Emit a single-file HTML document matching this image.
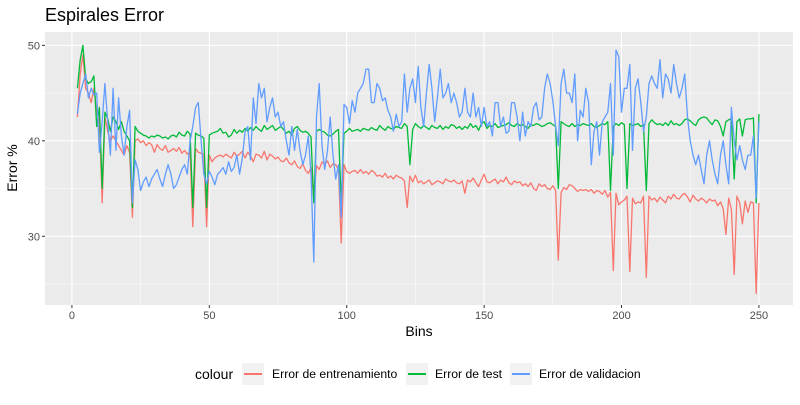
<!DOCTYPE html>
<html><head><meta charset="utf-8"><style>
body{margin:0;background:#fff;font-family:"Liberation Sans",sans-serif}
svg text{font-family:"Liberation Sans",sans-serif}
</style></head><body>
<svg id="chart" width="800" height="400" xmlns="http://www.w3.org/2000/svg">
<rect width="800" height="400" fill="#fff"/>
<text x="45" y="21" font-size="18" fill="#000">Espirales Error</text>
<rect x="45" y="32" width="748" height="273" fill="#EBEBEB"/>
<g id="grid"></g><g id="series"></g><g id="axes"></g>
<text x="419" y="336" font-size="14" text-anchor="middle">Bins</text>
<text transform="translate(17,168) rotate(-90)" font-size="14" text-anchor="middle">Error %</text>
<g>
<text x="195" y="379" font-size="14">colour</text>
<g><rect x="242" y="363" width="22" height="22" fill="#F2F2F2"/><line x1="244" y1="374" x2="262" y2="374" stroke="#F8766D" stroke-width="2"/><text x="272" y="378" font-size="12.2">Error de entrenamiento</text></g>
<g><rect x="406" y="363" width="22" height="22" fill="#F2F2F2"/><line x1="408" y1="374" x2="426" y2="374" stroke="#00BA38" stroke-width="2"/><text x="435" y="378" font-size="12.2">Error de test</text></g>
<g><rect x="510" y="363" width="22" height="22" fill="#F2F2F2"/><line x1="512" y1="374" x2="530" y2="374" stroke="#619CFF" stroke-width="2"/><text x="539" y="378" font-size="12.2">Error de validacion</text></g>
</g>
</svg>
<script>
const startBin = 2;
const trainErr = [42.5,47,49,45.5,45,44,45.5,43,42,33.5,
42.5,41,40,40.5,40,39.5,39,38.5,39.5,38.8,
32,40,40.2,39.8,40,39.5,39.8,39.6,38.8,39.6,
39.2,39,39.5,38.8,39,39.2,38.9,39.3,38.7,39,
38.6,38.9,31,39.2,38.8,38.7,38.6,31,38.5,37.8,
38.2,38.4,38.5,38.3,38.6,38.4,38.2,38.8,38.4,38.6,
38.9,38.2,38.8,38.4,37.8,38.6,38.5,38.2,38.9,38,
38.6,38.4,38.1,38.3,37.9,37.8,38.2,37.7,37.5,37.9,
37.3,37.1,37.6,36.9,36.6,37.2,34,37.4,37,37.8,
37.5,37.9,37.2,37.6,37.5,37,29.3,37.5,36.8,36.6,
36.8,36.9,36.6,37,36.6,36.8,36.5,36.9,36.7,36.3,
36.4,36.2,36.6,36.1,36.3,36,36.4,36.2,36.1,35.8,
33,36.3,35.7,36.4,35.6,35.8,35.5,35.7,35.9,35.4,
35.6,35.8,35.7,35.5,36,35.8,35.7,35.9,35.6,35.5,
35.8,34.5,35.9,35.7,36.1,35.6,35.2,35.9,36.5,35.7,
35.6,35.8,36,35.5,35.9,35.7,36.2,35.6,35.4,35.8,
35.6,35.7,35.3,35.5,35.2,35.6,35,34.8,35.5,35.2,
35.4,35,34.9,35.3,34.8,27.5,34.6,35.1,34.9,35.4,
35.3,35,34.7,34.9,34.8,34.9,34.7,34.9,34.5,34.8,
34.7,34.4,34.8,34.1,34.6,26.4,34.5,33.3,33.6,33.8,
34.2,26.3,34,33.4,33.6,33.5,34.2,25.7,34.2,33.8,
34,33.6,34.1,33.8,33.5,34.2,33.9,34.4,34,33.9,
34.3,34.5,34.1,33.6,34.3,33.9,33.7,34,33.8,33.5,
33.9,33.7,33.8,33.2,33.6,32.9,30.2,34,32.8,26,
34.2,33.5,31.3,33.7,32.5,33.6,33.5,24,33.5];
const testErr = [45.5,48.5,50,46.5,46,46.2,46.8,41.5,43.5,35,
43,42.3,41,42.5,42,41.2,42,41,40.5,40,
33,41.5,41,40.8,40.6,40.5,40.3,40.5,40.4,40.6,
40.5,40.3,40.4,40.2,40.5,40.6,40.4,40.9,40.6,40.5,
41,40.7,33,40.8,40.6,40.5,40.3,33,40.6,40.8,
40.9,41,41.3,40.8,40.9,40.4,40.6,41.2,40.8,41.1,
40.9,41.3,41,41.4,41.1,41.5,41.2,41,41.6,41.2,
41.4,41.6,41.1,41.3,41.5,41.2,40.8,41,40.6,41.3,
41.5,41.1,40.9,41,40.8,40.4,33.5,41,41.2,41,
40.9,40.6,40.5,40.7,41,41.2,33.5,40.8,41,41.3,
41,41.1,41.2,41,41.3,41.2,41.1,41.4,41.2,41.1,
41.6,41.3,41.1,41.5,41.3,41.2,41.5,41.4,41.3,41.8,
41.5,37.5,41.2,41.8,41.5,41.3,41.6,41.4,41.2,41.6,
41.4,41.3,41.6,41.2,41.5,41.3,41.7,41.6,41.3,41.5,
41.2,41.5,41.3,41.8,41.4,41.6,41.1,41.8,42,41.3,
41.6,41.5,41.8,41.4,41.5,41.6,41.7,41.9,41.6,41.5,
41.8,41.6,41.7,41.5,41.3,41.7,41.6,41.8,41.7,41.5,
41.6,41.8,41.9,41.7,41.5,35,42,41.8,41.6,41.5,
41.8,41.5,41.7,41.6,41.8,41.7,41.6,41.8,41.5,41.4,
41.6,41.8,41.7,42,34.8,41.5,41.8,41.6,41.9,41.7,
35,41.8,41.6,41.7,41.8,41.5,41.7,34.8,41.8,42.2,
41.9,41.7,41.8,41.6,41.9,41.6,42.1,41.7,41.8,41.6,
41.8,42.2,42.3,42.1,41.8,41.6,42.2,42.4,42.5,42.4,
42,41.7,42.2,42.1,41.5,40.5,42,42.2,42.3,36,
42,42.3,40.5,42.2,42.3,42.3,42.4,33.5,42.8];
const valErr = [42.8,45,46,47,44.5,45.5,44.8,45,38.8,42,
46,42,38.5,45.5,39,44.5,40.5,38.5,41.5,43.2,
33.5,38,37,34.8,35.7,36.2,35.2,36,36.5,37,
36,35.2,36.5,37.5,36.5,35,35.4,36.2,37,37.5,
36.5,40,41.5,43.5,44,40,36.5,35.5,36.8,36.2,
35.4,36.5,36.8,37.2,36.5,37.8,36.8,37.2,38.5,36.5,
38.2,41,41.5,38,44.5,41.8,46,44.5,45.5,42,
43.5,44.5,42.5,43,41.5,42,40,38.5,41.5,39,
41.2,39,37.5,38.5,40.5,36.5,27.3,42.5,46,39.5,
37,39,42.5,38.5,36,37.5,32,43.8,43.5,41.8,
44.2,43,45,45.5,46,47.5,47.5,44,44,46,
45.5,44.2,44.5,43.2,42.5,41,42.8,41.5,42,47,
43,45.5,46.5,44,47.8,43.5,41.5,45,48,45.5,
42,44.5,47.5,44.5,45,46,44,45,44,42.5,
43,45.5,43,42.5,45,42.5,43.5,41.5,43.5,41.5,
42,40.5,44,44,41.5,42.5,40.8,41,44,44,
42.5,40,43,40.5,42,41.5,43.5,44,42.2,42.5,
45.5,47,46,44.2,41.5,39.5,46,47.5,45,45,
44,47,40,43.2,42.5,45.5,44,37.5,41,42,
38.5,42,42.5,43,46,38.5,49.5,48.8,43,45.5,
45.5,48,39,45.5,46.5,44,41,42.5,46,46.8,
46,45.5,48.5,44.5,47,46.5,45,48,46,44.5,
45.5,47,42.5,40,38.5,37.5,38.5,37,35.5,38.5,
40,38,36.5,35.5,38.5,40,37.5,35.5,43.5,40,
38,39.5,38,37,38.5,38.5,40.5,34,42];
const xTicks = [0,50,100,150,200,250];
const yTicks = [30,40,50];

const NS="http://www.w3.org/2000/svg";
const L=45,R=793,T=32,B=305;
const xMin=-9.8,xMax=262.4,yMin=22.8,yMax=51.4;
function sx(v){return L+(v-xMin)/(xMax-xMin)*(R-L);}
function sy(v){return B-(v-yMin)/(yMax-yMin)*(B-T);}
function mk(tag,attrs,parent){const e=document.createElementNS(NS,tag);for(const k in attrs)e.setAttribute(k,attrs[k]);parent.appendChild(e);return e;}
const grid=document.getElementById('grid'),axes=document.getElementById('axes'),ser=document.getElementById('series');
for(let i=0;i<xTicks.length;i++){
  const v=xTicks[i];
  if(i>0){const m=(xTicks[i-1]+v)/2;const ml=mk('line',{x1:sx(m),x2:sx(m),y1:T,y2:B,stroke:'#fff','stroke-width':0.5},grid);
  
  }
  const g=mk('line',{x1:sx(v),x2:sx(v),y1:T,y2:B,stroke:'#fff','stroke-width':1.1},grid);
  
  
  const tk=mk('line',{x1:sx(v),x2:sx(v),y1:B,y2:B+3,stroke:'#333','stroke-width':1},axes);
  
  
  const t=mk('text',{x:sx(v),y:B+14,'font-size':11,fill:'#4D4D4D','text-anchor':'middle'},axes);
  t.textContent=v;
  
  
}
const yMinor=[25,35,45];
for(const m of yMinor){const ml=mk('line',{x1:L,x2:R,y1:sy(m),y2:sy(m),stroke:'#fff','stroke-width':0.5},grid);
  
  }
for(const v of yTicks){
  const g=mk('line',{x1:L,x2:R,y1:sy(v),y2:sy(v),stroke:'#fff','stroke-width':1.1},grid);
  
  
  const tk=mk('line',{x1:L-3,x2:L,y1:sy(v),y2:sy(v),stroke:'#333','stroke-width':1},axes);
  
  
  const t=mk('text',{x:L-5,y:sy(v)+4,'font-size':11,fill:'#4D4D4D','text-anchor':'end'},axes);
  t.textContent=v;
  
  
}
function line(arr,color,name){
  const d=arr.map((v,i)=>(i?'L':'M')+sx(startBin+i).toFixed(1)+','+sy(v).toFixed(1)).join('');
  const p=mk('path',{d:d,fill:'none',stroke:color,'stroke-width':1.3,'stroke-linejoin':'round'},ser);
  
  
}
line(trainErr,'#F8766D','train-error-line');
line(testErr,'#00BA38','test-error-line');
line(valErr,'#619CFF','validation-error-line');
</script>
</body></html>
